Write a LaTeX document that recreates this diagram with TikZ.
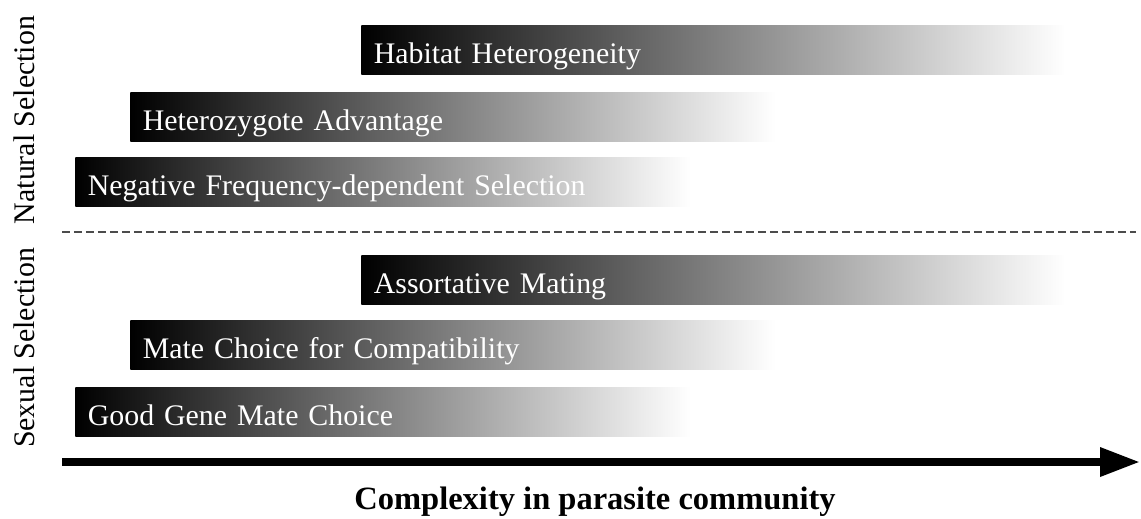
\documentclass[tikz,border=0pt]{standalone}
\usepackage{fontspec}
\setmainfont{Liberation Serif}
\usepackage{tikz}
\usetikzlibrary{arrows.meta}

\begin{document}
\begin{tikzpicture}[x=0.02cm, y=-0.02cm,
        bar/.style={rectangle,left color=black,right color=white,anchor=north west,
          minimum height=0.98cm,inner xsep=0.25cm,inner ysep=0pt,align=left,text=white,
          text height=0.54cm,text depth=0cm,font=\fontsize{17}{20}\selectfont},
        sidelab/.style={rotate=90,font=\fontsize{17}{20}\selectfont},
        axislab/.style={font=\fontsize{18.5}{22}\selectfont\bfseries},
        sep/.style={draw=black!70,line width=0.8pt,dash pattern=on 0.16cm off 0.08cm},
        arrow/.style={-{Triangle[length=0.8cm,width=0.55cm]},line width=4.5pt}]
        \useasboundingbox (0,0) rectangle (1141,518);
        \node[bar,text width=13.58cm] (hab) at (361,25) {Habitat Heterogeneity};
        \node[bar,text width=12.4cm] (het) at (130,92) {Heterozygote Advantage};
        \node[bar,text width=11.8cm] (nfd) at (75,157) {Negative Frequency-dependent Selection};
        \node[bar,text width=13.58cm] (asm) at (361,255) {Assortative Mating};
        \node[bar,text width=12.4cm] (mcc) at (130,320) {Mate Choice for Compatibility};
        \node[bar,text width=11.8cm] (ggm) at (75,387) {Good Gene Mate Choice};
        \node[sidelab] (nat) at (24,120) {Natural Selection};
        \node[sidelab] (sex) at (24,348) {Sexual Selection};
        \coordinate (sepl) at (62,232);
        \coordinate (sepr) at (1136,232);
        \draw[sep] (sepl) -- (sepr);
        \coordinate (axl) at (62,462);
        \coordinate (axr) at (1140,462);
        \draw[arrow] (axl) -- (axr);
        \node[axislab] (cplx) at (595,502) {Complexity in parasite community};
      \end{tikzpicture}
\end{document}
